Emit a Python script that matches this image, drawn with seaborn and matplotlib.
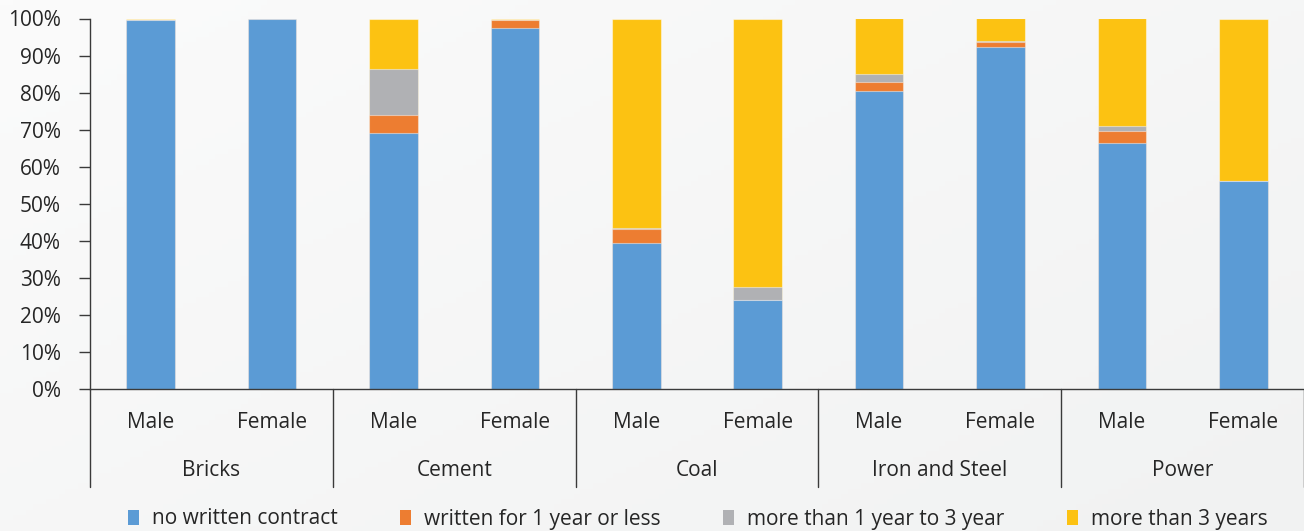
import numpy as np
import pandas as pd
import matplotlib
matplotlib.use("Agg")
import matplotlib.pyplot as plt
from matplotlib.patches import Patch
import seaborn as sns

# Share of workers by type of employment contract, per sector and sex (%)
sectors = ["Bricks", "Cement", "Coal", "Iron and Steel", "Power"]
sexes = ["Male", "Female"]
no_written = [99.7, 99.9, 69.2, 97.4, 39.3, 23.9, 80.4, 92.4, 66.4, 56.2]
one_year_or_less = [0.0, 0.0, 4.7, 2.1, 3.9, 0.0, 2.4, 1.2, 3.2, 0.0]
one_to_three = [0.0, 0.0, 12.5, 0.1, 0.2, 3.5, 2.2, 0.2, 1.4, 0.0]
more_than_three = [0.3, 0.1, 13.6, 0.4, 56.6, 72.6, 15.0, 6.2, 29.0, 43.8]

series_names = ["no written contract", "written for 1 year or less",
                "more than 1 year to 3 year", "more than 3 years"]
colors = ["#5B9BD5", "#ED7D31", "#B0B1B4", "#FCC212"]
ytick_labels = [f"{v}%" for v in range(0, 101, 10)]

sns.set_theme(style="white")
plt.rcParams["font.family"] = ["Open Sans", "DejaVu Sans"]
text_color = "#262626"
fs = 15

keys = [f"{s}|{x}" for s in sectors for x in sexes]
df = pd.DataFrame({
    "key": keys,
    "s0": no_written,
    "s1": one_year_or_less,
    "s2": one_to_three,
    "s3": more_than_three,
})
# cumulative tops, drawn back-to-front so each segment shows
cum = df[["s0", "s1", "s2", "s3"]].cumsum(axis=1)

fig = plt.figure(figsize=(13.04, 5.31), dpi=100)

# soft background gradient
bg = fig.add_axes([0, 0, 1, 1], zorder=-10)
gx, gy = np.meshgrid(np.linspace(0, 1, 200), np.linspace(0, 1, 100))
grad = 0.55 * gx + 0.45 * (1 - gy)
bg.imshow(grad, cmap=matplotlib.colors.LinearSegmentedColormap.from_list(
    "bgc", ["#FBFBFB", "#F1F2F2"]), aspect="auto", extent=[0, 1, 0, 1],
    origin="lower")
bg.axis("off")

W, H = 1304, 531
left, right, top, bottom = 90, 1304, 18.5, 389
ax = fig.add_axes([left / W, 1 - bottom / H, (right - left) / W, (bottom - top) / H])
ax.patch.set_alpha(0)

for i in range(3, -1, -1):
    sns.barplot(x=df["key"], y=cum[f"s{i}"], order=keys, color=colors[i],
                width=0.4, ax=ax, saturation=1, edgecolor=(1, 1, 1, 0.45),
                linewidth=0.8, errorbar=None)

ax.set_xlim(-0.5, len(keys) - 0.5)
ax.set_ylim(0, 100)
ax.set_yticks(range(0, 101, 10))
ax.set_yticklabels(ytick_labels, fontsize=fs, color=text_color)
ax.set_xticks([])
ax.set_xlabel("")
ax.set_ylabel("")
for sp in ["top", "right"]:
    ax.spines[sp].set_visible(False)
for sp in ["bottom", "left"]:
    ax.spines[sp].set_color("#3A3A3A")
    ax.spines[sp].set_linewidth(1.0)
ax.tick_params(axis="y", left=True, direction="out", length=8, width=1.0,
               color="#3A3A3A", pad=13)

trans = matplotlib.transforms.blended_transform_factory(ax.transData, ax.transAxes)
ax_h = bottom - top
for j, key in enumerate(keys):
    ax.text(j, -(423 - bottom) / ax_h, key.split("|")[1], transform=trans,
            ha="center", va="center", fontsize=fs, color=text_color)
for k, s in enumerate(sectors):
    ax.text(2 * k + 0.5, -(470 - bottom) / ax_h, s, transform=trans,
            ha="center", va="center", fontsize=fs, color=text_color)
for k in range(len(sectors) + 1):
    ax.plot([2 * k - 0.5] * 2, [0, -(487 - bottom) / ax_h], transform=trans,
            color="#3A3A3A", lw=1.0, clip_on=False)

handles = [Patch(facecolor=c, edgecolor="none") for c in colors]
fig.legend(handles, series_names, loc="center", bbox_to_anchor=(0.535, 1 - 519 / H),
           ncol=4, frameon=False, fontsize=fs, handlelength=0.53, handleheight=0.75,
           handletextpad=0.62, columnspacing=3.0, labelcolor=text_color)

fig.savefig("out.png", dpi=100)
